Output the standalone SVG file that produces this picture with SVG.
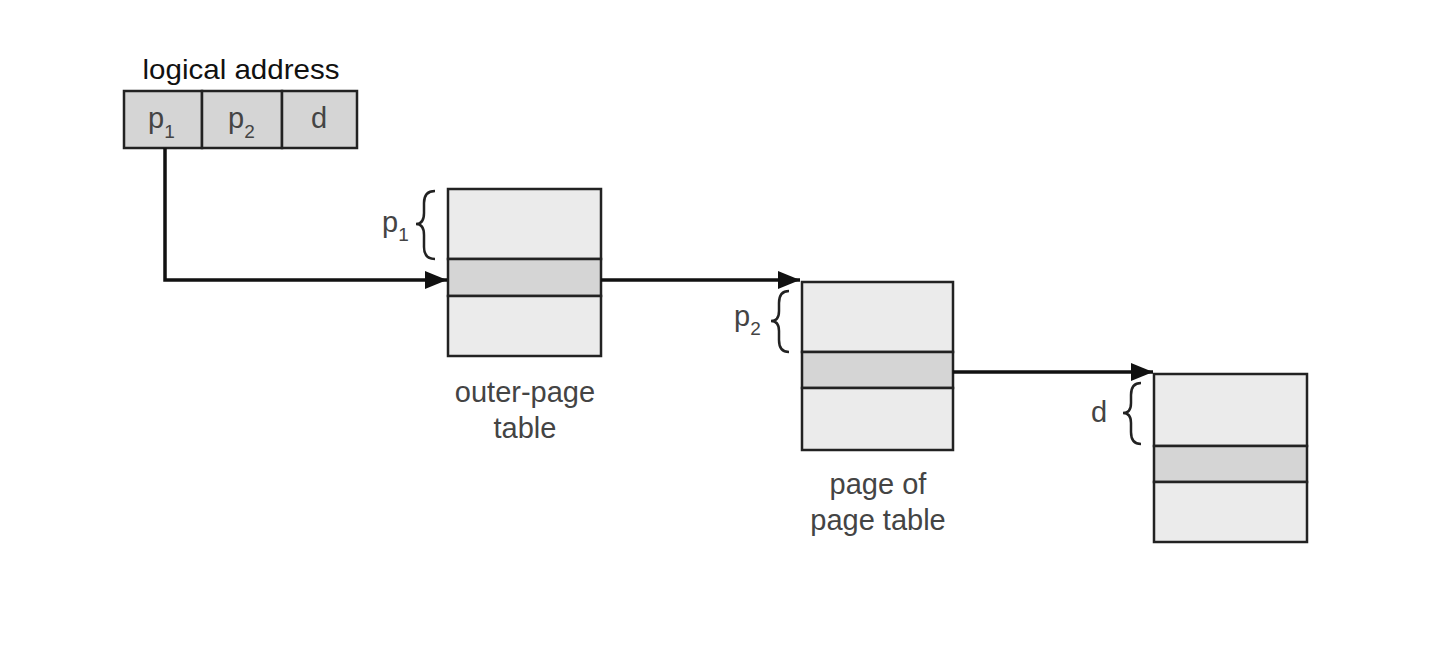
<svg xmlns="http://www.w3.org/2000/svg" width="1430" height="660" viewBox="0 0 1430 660">
<style>
.light{fill:#ebebeb;stroke:#222;stroke-width:2.5}
.dark{fill:#d5d5d5;stroke:#222;stroke-width:2.5}
.lbl{font-family:"Liberation Sans",Arial,sans-serif;font-size:29px;fill:#444}
.title{font-family:"Liberation Sans",Arial,sans-serif;font-size:28px;fill:#111}
.sub{font-size:19px}
.conn{fill:none;stroke:#111;stroke-width:3.5}
.brace{fill:none;stroke:#222;stroke-width:2.5}
</style>
<defs>
<marker id="ah" markerWidth="22" markerHeight="18" refX="22" refY="9" orient="auto" markerUnits="userSpaceOnUse">
<path d="M0,0 L22,9 L0,18 Z" fill="#111"/>
</marker>
</defs>
<rect width="1430" height="660" fill="#fff"/>

<g id="logical-address">
<text class="title" x="241" y="79" text-anchor="middle" textLength="197" lengthAdjust="spacingAndGlyphs">logical address</text>
<rect class="dark" x="124" y="91" width="78" height="57"/>
<rect class="dark" x="202" y="91" width="80" height="57"/>
<rect class="dark" x="282" y="91" width="75" height="57"/>
<text class="lbl" x="148" y="128">p<tspan class="sub" dy="10">1</tspan></text>
<text class="lbl" x="228" y="128">p<tspan class="sub" dy="10">2</tspan></text>
<text class="lbl" x="311" y="128">d</text>
</g>

<g id="outer-page-table">
<rect class="light" x="448" y="189" width="153" height="70"/>
<rect class="dark" x="448" y="259" width="153" height="37"/>
<rect class="light" x="448" y="296" width="153" height="60"/>
<path class="brace" d="M435,191 Q424,191 424,203 L424,213 Q424,224 416,224 Q424,224 424,235 L424,247 Q424,259 435,259"/>
<text class="lbl" x="382" y="232">p<tspan class="sub" dy="9">1</tspan></text>
<text class="lbl" x="525" y="402" text-anchor="middle">outer-page</text>
<text class="lbl" x="525" y="438" text-anchor="middle">table</text>
</g>

<g id="page-of-page-table">
<rect class="light" x="802" y="282" width="151" height="70"/>
<rect class="dark" x="802" y="352" width="151" height="36"/>
<rect class="light" x="802" y="388" width="151" height="62"/>
<path class="brace" d="M789,291 Q779,291 779,303 L779,311 Q779,321 771,321 Q779,321 779,331 L779,340 Q779,352 789,352"/>
<text class="lbl" x="734" y="326">p<tspan class="sub" dy="9">2</tspan></text>
<text class="lbl" x="878" y="494" text-anchor="middle">page of</text>
<text class="lbl" x="878" y="530" text-anchor="middle">page table</text>
</g>

<g id="page">
<rect class="light" x="1154" y="374" width="153" height="72"/>
<rect class="dark" x="1154" y="446" width="153" height="36"/>
<rect class="light" x="1154" y="482" width="153" height="60"/>
<path class="brace" d="M1141,383 Q1131,383 1131,395 L1131,403 Q1131,413 1123,413 Q1131,413 1131,423 L1131,432 Q1131,444 1141,444"/>
<text class="lbl" x="1091" y="422">d</text>
</g>

<g id="connectors">
<path class="conn" d="M165,148 L165,280 L447,280" marker-end="url(#ah)"/>
<path class="conn" d="M601,280 L800,280" marker-end="url(#ah)"/>
<path class="conn" d="M953,372 L1153,372" marker-end="url(#ah)"/>
</g>
</svg>
